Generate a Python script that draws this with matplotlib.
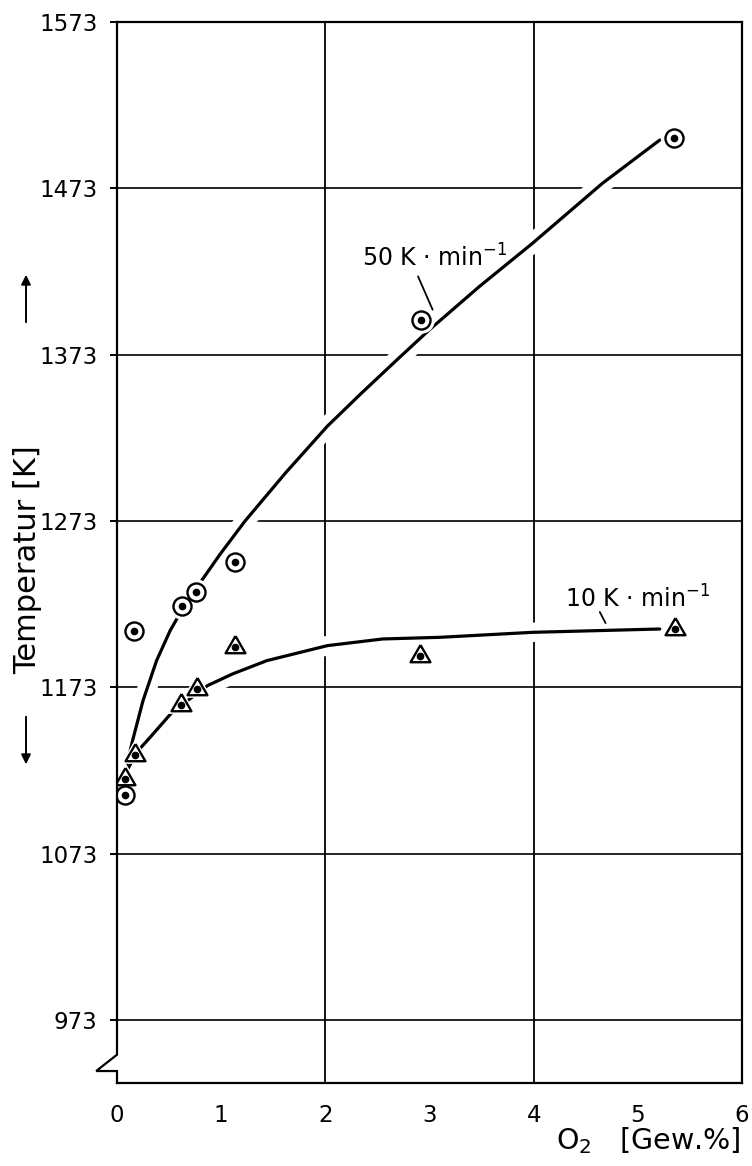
import matplotlib

matplotlib.use("Agg")
import matplotlib.pyplot as plt
from matplotlib import font_manager

# measured transformation temperatures vs oxygen content
O2_50 = [0.08, 0.16, 0.62, 0.76, 1.13, 2.92, 5.35]
T_50 = [1108, 1207, 1222, 1230, 1248, 1394, 1503]
O2_10 = [0.08, 0.17, 0.61, 0.77, 1.13, 2.91, 5.36]
T_10 = [1118, 1132, 1162, 1172, 1197, 1192, 1208]

# hand-drawn trend curves through the points
FIT50_X = [0.07, 0.15, 0.25, 0.38, 0.51, 0.61, 0.80, 0.99, 1.23, 1.62, 2.02,
           2.35, 2.69, 3.00, 3.48, 3.99, 4.66, 5.21]
FIT50_T = [1120, 1141, 1165, 1189, 1207, 1218, 1236, 1253, 1273, 1302, 1330,
           1350, 1370, 1388, 1414, 1440, 1476, 1502]
FIT10_X = [0.08, 0.19, 0.32, 0.53, 0.87, 1.11, 1.44, 2.02, 2.55, 3.10, 3.99, 5.21]
FIT10_T = [1121, 1134, 1143, 1158, 1174, 1181, 1189, 1198, 1202, 1203, 1206, 1208]

XTICKS = [0, 1, 2, 3, 4, 5, 6]
YTICKS = [973, 1073, 1173, 1273, 1373, 1473, 1573]
GRID_X = [2, 4]
GRID_T = [973, 1073, 1173, 1273, 1373, 1473]

installed = {f.name for f in font_manager.fontManager.ttflist}
NARROW, NUM_SIZE = "DejaVu Sans", 16.5
for name, size in (("Liberation Sans Narrow", 20), ("DejaVu Sans Condensed", 17.5)):
    if name in installed:
        NARROW, NUM_SIZE = name, size
        break

# triangle centred on its centroid, so the dot sits where the point is
TRI = [(0, 1), (-0.866, -0.5), (0.866, -0.5), (0, 1)]

W, H = 752, 1166
fig = plt.figure(figsize=(W / 100, H / 100), dpi=100)
ax = fig.add_axes([117 / W, 1 - 1083 / H, 625 / W, 1061 / H])
ax.set_xlim(0, 6)
ax.set_ylim(935, 1573)

for x in GRID_X:
    ax.axvline(x, color="black", lw=1.3, zorder=1)
for t in GRID_T:
    ax.axhline(t, color="black", lw=1.2, zorder=1)

# white halos first so the grid breaks where the curves cross it
for xs, ts in ((FIT50_X, FIT50_T), (FIT10_X, FIT10_T)):
    ax.plot(xs, ts, color="white", lw=14, solid_capstyle="butt", zorder=1.5)
for xs, ts in ((FIT50_X, FIT50_T), (FIT10_X, FIT10_T)):
    ax.plot(xs, ts, color="black", lw=2.3, solid_capstyle="round",
            solid_joinstyle="round", zorder=2)

ax.plot(O2_50, T_50, "o", ms=18, color="white", zorder=2.5)
ax.plot(O2_10, T_10, marker=TRI, ls="none", ms=22, color="white", zorder=2.5)
ax.plot(O2_50, T_50, "o", ms=13, mfc="white", mec="black", mew=1.7, zorder=3)
ax.plot(O2_10, T_10, marker=TRI, ls="none", ms=16.5, mfc="white", mec="black",
        mew=1.7, zorder=3)
ax.plot(O2_50, T_50, "o", ms=4.5, color="black", zorder=4)
ax.plot(O2_10, T_10, "o", ms=4.5, color="black", zorder=4)

# frame with the broken temperature axis at the bottom left
ax.spines["left"].set_visible(False)
for side in ("top", "right", "bottom"):
    ax.spines[side].set_linewidth(1.6)
ax.plot([0, 0, -0.2, 0, 0], [1573, 952, 942.2, 942.2, 935], color="black",
        lw=1.6, clip_on=False, zorder=5, solid_joinstyle="miter")

ax.set_xticks(XTICKS)
ax.set_xticklabels([str(x) for x in XTICKS])
ax.set_xticks([1, 3, 5], minor=True)
ax.set_yticks(YTICKS)
ax.set_yticklabels([str(t) for t in YTICKS])
ax.tick_params(axis="x", which="major", length=0, pad=15)
ax.tick_params(axis="x", which="minor", length=7, width=1.4, direction="out")
ax.tick_params(axis="y", length=5, width=1.4, direction="out", pad=9)
for lab in ax.get_xticklabels() + ax.get_yticklabels():
    lab.set_fontfamily(NARROW)
    lab.set_fontsize(NUM_SIZE)

lab_font = dict(family="DejaVu Sans", fontsize=17)
ax.text(2.35, 1426, r"50 K $\cdot$ min$^{-1}$", ha="left", va="baseline", **lab_font)
ax.annotate("", xy=(3.03, 1400), xytext=(2.89, 1420),
            arrowprops=dict(arrowstyle="-", lw=1.3, shrinkA=0, shrinkB=0))
ax.text(4.30, 1221, r"10 K $\cdot$ min$^{-1}$", ha="left", va="baseline", **lab_font)
ax.annotate("", xy=(4.69, 1211.6), xytext=(4.635, 1218.2),
            arrowprops=dict(arrowstyle="-", lw=1.3, shrinkA=0, shrinkB=0))

fig.text(740 / W, 17 / H, r"O$_2$   [Gew.%]", ha="right", va="baseline",
         family="DejaVu Sans", fontsize=20.5)
fig.text(28 / W, 1 - 560 / H, "Temperatur [K]", rotation=90, ha="center",
         va="center", family="DejaVu Sans", fontsize=22)
ax.annotate("", xy=(26, H - 272), xytext=(26, H - 325), xycoords="figure pixels",
            textcoords="figure pixels",
            arrowprops=dict(arrowstyle="-|>", lw=1.4, color="black", mutation_scale=14))
ax.annotate("", xy=(26, H - 767), xytext=(26, H - 714), xycoords="figure pixels",
            textcoords="figure pixels",
            arrowprops=dict(arrowstyle="-|>", lw=1.4, color="black", mutation_scale=14))

fig.savefig("out.png", dpi=100)
